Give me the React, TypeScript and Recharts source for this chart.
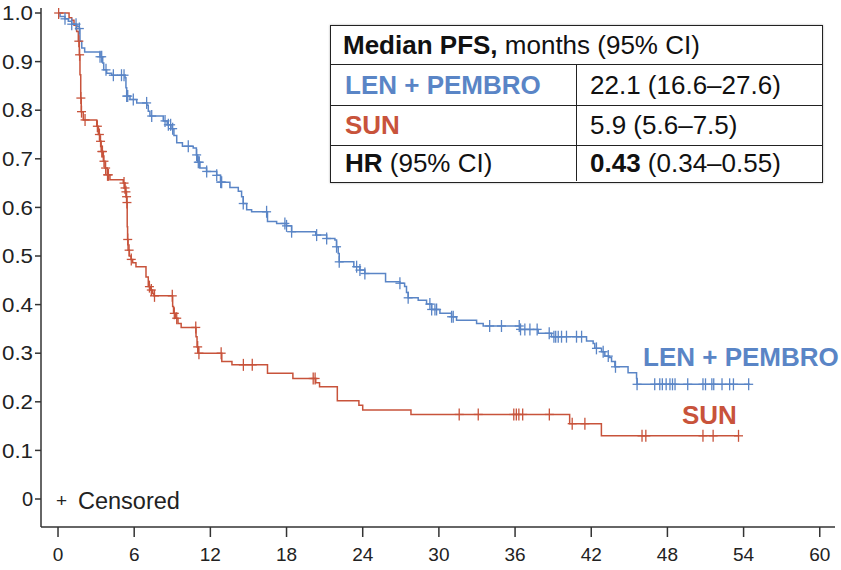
import React from 'react';
import { ComposedChart, Line, Scatter, XAxis, YAxis } from 'recharts';

const BLUE = '#5a85c6';
const RED = '#c8533b';
const FONT = '"Liberation Sans", Arial, Helvetica, sans-serif';

// Kaplan–Meier steps: [month, probability]
const lenPembroSteps: [number, number][] = [
  [0, 1.0], [0.16, 0.993], [0.55, 0.988], [0.81, 0.983], [1.08, 0.977], [1.47, 0.973],
  [1.68, 0.968], [1.73, 0.942], [1.87, 0.928], [2.1, 0.92], [3.31, 0.91], [3.52, 0.897],
  [3.6, 0.883], [3.83, 0.876], [4.23, 0.872], [5.28, 0.867], [5.35, 0.846], [5.41, 0.829],
  [5.67, 0.822], [6.2, 0.815], [7.0, 0.81], [7.11, 0.798], [7.24, 0.788], [8.29, 0.778],
  [8.6, 0.77], [8.9, 0.762], [9.13, 0.748], [9.35, 0.733], [9.8, 0.726], [10.65, 0.722],
  [10.9, 0.708], [11.0, 0.693], [11.18, 0.681], [11.7, 0.674], [12.5, 0.666], [12.8, 0.652],
  [13.54, 0.641], [14.2, 0.633], [14.46, 0.622], [14.59, 0.608], [14.86, 0.595], [15.25, 0.591],
  [16.5, 0.571], [17.22, 0.567], [18.0, 0.562], [18.4, 0.55], [20.3, 0.543], [21.16, 0.536],
  [21.81, 0.533], [21.94, 0.519], [22.07, 0.505], [22.15, 0.488], [23.3, 0.478], [23.78, 0.471],
  [24.17, 0.464], [25.8, 0.447], [26.93, 0.444], [27.3, 0.437], [27.45, 0.425], [27.58, 0.414],
  [28.37, 0.409], [29.03, 0.401], [29.43, 0.39], [30.08, 0.382], [31.0, 0.375], [31.39, 0.368],
  [32.97, 0.361], [33.49, 0.356], [36.38, 0.349], [37.82, 0.341], [38.87, 0.334], [41.63, 0.325],
  [42.15, 0.32], [42.28, 0.31], [42.81, 0.303], [43.07, 0.294], [43.4, 0.291], [43.6, 0.283],
  [43.86, 0.272], [44.9, 0.26], [45.57, 0.248], [45.61, 0.236], [54.5, 0.236],
];

const sunSteps: [number, number][] = [
  [0, 1.0], [0.87, 0.99], [1.08, 0.985], [1.26, 0.975], [1.47, 0.962], [1.6, 0.942],
  [1.68, 0.914], [1.73, 0.873], [1.79, 0.825], [1.83, 0.797], [1.99, 0.78], [3.05, 0.767],
  [3.18, 0.75], [3.3, 0.736], [3.4, 0.715], [3.57, 0.695], [3.7, 0.681], [3.88, 0.667],
  [4.09, 0.657], [5.14, 0.65], [5.25, 0.64], [5.32, 0.632], [5.38, 0.622], [5.41, 0.61],
  [5.45, 0.56], [5.48, 0.534], [5.52, 0.512], [5.62, 0.5], [5.75, 0.493], [5.88, 0.486],
  [6.14, 0.478], [6.93, 0.457], [7.11, 0.437], [7.3, 0.43], [7.46, 0.423], [7.55, 0.418],
  [9.03, 0.396], [9.1, 0.382], [9.25, 0.372], [9.45, 0.361], [9.7, 0.353], [10.87, 0.334],
  [10.95, 0.313], [11.05, 0.3], [12.9, 0.283], [13.7, 0.276], [16.5, 0.259], [18.5, 0.248],
  [20.3, 0.239], [20.6, 0.231], [22.0, 0.202], [23.7, 0.193], [24.0, 0.183], [27.8, 0.174],
  [40.3, 0.155], [42.8, 0.13], [53.6, 0.13],
];

// censoring times (months)
const lenPembroCensored: number[] = [
  0.55, 1.08, 1.42, 1.68, 3.31, 3.44, 3.78, 4.36, 5.0, 5.2, 5.41, 5.49, 5.93, 6.98, 7.38,
  8.43, 8.69, 8.87, 9.03, 10.26, 10.92, 11.05, 11.13, 11.71, 12.5, 12.81, 12.89, 14.59,
  16.43, 17.87, 18.0, 18.4, 20.37, 21.16, 21.94, 22.15, 23.52, 23.78, 24.17, 26.93, 27.58,
  29.29, 29.43, 29.69, 29.82, 31.0, 31.13, 34.0, 34.93, 36.33, 36.43, 36.77, 37.17, 37.74,
  38.69, 39.06, 39.2, 39.4, 39.66, 40.05, 40.84, 41.24, 42.41, 42.94, 43.34, 43.91, 45.61,
  47.0, 47.4, 47.6, 47.9, 48.2, 48.4, 48.6, 49.6, 50.8, 51.0, 51.5, 51.65, 52.3, 52.9, 53.2, 54.4,
];

const sunCensored: number[] = [
  0.05, 1.64, 1.7, 1.8, 1.85, 2.13, 3.1, 3.26, 3.35, 3.45, 3.5, 3.62, 3.75, 3.9, 3.97,
  5.2, 5.28, 5.35, 5.4, 5.43, 5.49, 5.6, 5.77, 7.2, 7.35, 7.6, 9.0, 9.16, 9.35, 10.85,
  11.0, 11.1, 12.85, 14.6, 15.3, 20.1, 20.25, 31.6, 33.1, 35.9, 36.1, 36.3, 36.6, 38.7,
  40.5, 41.5, 46.0, 46.3, 50.8, 51.6, 53.6,
];

const xTicks = [0, 6, 12, 18, 24, 30, 36, 42, 48, 54, 60];
const yTicks = [0, 0.1, 0.2, 0.3, 0.4, 0.5, 0.6, 0.7, 0.8, 0.9, 1.0];

const armNames = ['LEN + PEMBRO', 'SUN'];
const armMedians = ['22.1 (16.6–27.6)', '5.9 (5.6–7.5)'];
const hrValue = ['0.43', '(0.34–0.55)'];

const toRows = (steps: [number, number][]) => steps.map(([t, s]) => ({ t, s }));

// place censor marks on the step curve
const levelAt = (steps: [number, number][], t: number) => {
  let s = steps[0][1];
  for (const [st, sv] of steps) {
    if (st <= t) s = sv;
    else break;
  }
  return s;
};

const censorRows = (times: number[], steps: [number, number][]) =>
  times.map((t) => ({ t, s: levelAt(steps, t) }));

const plusShape = (color: string) => (props: any) => {
  const { cx, cy } = props;
  return (
    <g stroke={color} strokeWidth={1.3}>
      <line x1={cx} x2={cx} y1={cy - 6} y2={cy + 6} />
      <line x1={cx - 4.5} x2={cx + 4.5} y1={cy} y2={cy} />
    </g>
  );
};

// wide y labels, kept just inside the left edge
const YTick = (props: any) => {
  const { x, y, payload } = props;
  const label = payload.value === 0 ? '0' : payload.value.toFixed(1);
  const stretch = label.length > 1 ? { textLength: 31, lengthAdjust: 'spacingAndGlyphs' } : {};
  return (
    <text x={x} y={y} dy="0.355em" textAnchor="end" fontSize={20} fill="#222" fontFamily={FONT} {...stretch}>
      {label}
    </text>
  );
};

const cellBorder = '1.5px solid #222';

export default function App() {
  const axisStyle = { stroke: '#333', strokeWidth: 1.5 };
  const tickStyle = { fontSize: 19, fill: '#222', fontFamily: FONT };

  return (
    <div style={{ position: 'absolute', left: 0, top: 0, width: 841, height: 570, fontFamily: FONT, background: '#fff', overflow: 'hidden' }}>
      <ComposedChart width={841} height={570} margin={{ top: 8, right: 6, bottom: 0, left: 0 }}>
        <XAxis
          type="number"
          dataKey="t"
          domain={[-1.34, 61.2]}
          ticks={xTicks}
          allowDataOverflow
          height={43}
          tickSize={10}
          tickMargin={11}
          axisLine={axisStyle}
          tickLine={axisStyle}
          tick={tickStyle}
        />
        <YAxis
          type="number"
          domain={[-0.0576, 1.0103]}
          ticks={yTicks}
          allowDataOverflow
          width={41}
          tickSize={6}
          tickMargin={2}
          axisLine={axisStyle}
          tickLine={axisStyle}
          tick={<YTick />}
        />
        <Line
          data={toRows(sunSteps)}
          dataKey="s"
          type="stepAfter"
          stroke={RED}
          strokeWidth={1.5}
          dot={false}
          isAnimationActive={false}
        />
        <Line
          data={toRows(lenPembroSteps)}
          dataKey="s"
          type="stepAfter"
          stroke={BLUE}
          strokeWidth={1.5}
          dot={false}
          isAnimationActive={false}
        />
        <Scatter data={censorRows(sunCensored, sunSteps)} dataKey="s" shape={plusShape(RED)} isAnimationActive={false} />
        <Scatter data={censorRows(lenPembroCensored, lenPembroSteps)} dataKey="s" shape={plusShape(BLUE)} isAnimationActive={false} />
      </ComposedChart>

      {/* curve labels */}
      <div style={{ position: 'absolute', left: 643, top: 344, fontSize: 26, lineHeight: '26px', fontWeight: 700, color: BLUE, whiteSpace: 'nowrap' }}>
        {armNames[0]}
      </div>
      <div style={{ position: 'absolute', left: 682, top: 402, fontSize: 26, lineHeight: '26px', fontWeight: 700, color: RED, whiteSpace: 'nowrap' }}>
        {armNames[1]}
      </div>

      {/* censored legend */}
      <div style={{ position: 'absolute', left: 56, top: 491, fontSize: 19, lineHeight: '19px', color: '#222' }}>+</div>
      <div style={{ position: 'absolute', left: 78, top: 490, fontSize: 23.5, lineHeight: '23px', color: '#222' }}>Censored</div>

      {/* median table */}
      <div
        style={{
          position: 'absolute', left: 330, top: 25, width: 493, height: 158, boxSizing: 'border-box',
          border: cellBorder, background: '#fff', fontSize: 26, color: '#111', boxShadow: '0 0 2px #aaa',
        }}
      >
        <div style={{ height: 39, borderBottom: cellBorder, display: 'flex', alignItems: 'center', paddingLeft: 12, boxSizing: 'border-box' }}>
          <span><b>Median PFS,</b> months (95% CI)</span>
        </div>
        {armNames.map((name, i) => (
          <div key={name} style={{ height: i === 0 ? 41 : 40, borderBottom: cellBorder, display: 'flex', boxSizing: 'border-box' }}>
            <div style={{ width: 246, borderRight: cellBorder, display: 'flex', alignItems: 'center', paddingLeft: 14, boxSizing: 'border-box', fontWeight: 700, color: i === 0 ? BLUE : RED }}>
              {name}
            </div>
            <div style={{ display: 'flex', alignItems: 'center', paddingLeft: 13 }}>{armMedians[i]}</div>
          </div>
        ))}
        <div style={{ height: 35, display: 'flex' }}>
          <div style={{ width: 246, borderRight: cellBorder, display: 'flex', alignItems: 'center', paddingLeft: 14, boxSizing: 'border-box' }}>
            <span><b>HR</b> (95% CI)</span>
          </div>
          <div style={{ display: 'flex', alignItems: 'center', paddingLeft: 13 }}>
            <span><b>{hrValue[0]}</b> {hrValue[1]}</span>
          </div>
        </div>
      </div>
    </div>
  );
}
